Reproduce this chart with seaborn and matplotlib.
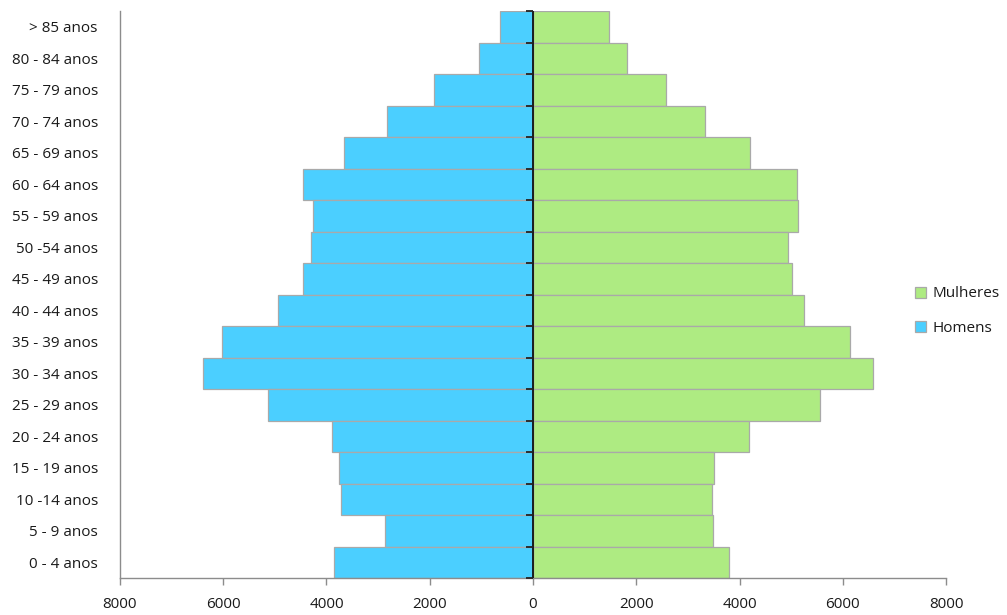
import numpy as np
import pandas as pd
import matplotlib
matplotlib.use("Agg")
import matplotlib.pyplot as plt
from matplotlib import markers
from matplotlib.ticker import FuncFormatter, FixedLocator
import seaborn as sns

# Age groups, oldest at the top
faixas = ["> 85 anos", "80 - 84 anos", "75 - 79 anos", "70 - 74 anos",
          "65 - 69 anos", "60 - 64 anos", "55 - 59 anos", "50 -54 anos",
          "45 - 49 anos", "40 - 44 anos", "35 - 39 anos", "30 - 34 anos",
          "25 - 29 anos", "20 - 24 anos", "15 - 19 anos", "10 -14 anos",
          "5 - 9 anos", "0 - 4 anos"]

homens = [645, 1045, 1923, 2833, 3665, 4464, 4270, 4301, 4464, 4948,
          6027, 6389, 5142, 3892, 3756, 3710, 2872, 3846]

mulheres = [1470, 1813, 2583, 3325, 4204, 5115, 5135, 4948, 5019, 5251,
            6137, 6577, 5556, 4185, 3506, 3461, 3487, 3791]

x_ticks = [-8000, -6000, -4000, -2000, 0, 2000, 4000, 6000, 8000]

cor_mulheres = "#AEEB82"
cor_homens = "#4BCFFF"
cor_borda = "#A9A9A9"
cor_texto = "#1A1A1A"

df = pd.concat([
    pd.DataFrame({"faixa": faixas, "pop": mulheres, "sexo": "Mulheres"}),
    pd.DataFrame({"faixa": faixas, "pop": [-v for v in homens], "sexo": "Homens"}),
], ignore_index=True)

sns.set_style("white")
plt.rcParams["font.family"] = ["Open Sans", "DejaVu Sans"]
plt.rcParams["font.size"] = 11

fig = plt.figure(figsize=(10.07, 6.15), dpi=100)
ax = fig.add_axes([120 / 1007, 37 / 615, 826 / 1007, 567 / 615])

sns.barplot(data=df, x="pop", y="faixa", hue="sexo", order=faixas,
            hue_order=["Mulheres", "Homens"],
            palette={"Mulheres": cor_mulheres, "Homens": cor_homens},
            saturation=1, dodge=False, width=1.0, orient="h",
            edgecolor=cor_borda, linewidth=0.9, ax=ax)

ax.set_xlim(-8000, 8000)
ax.set_ylim(len(faixas) - 0.5, -0.5)
ax.xaxis.set_major_locator(FixedLocator(x_ticks))
ax.xaxis.set_major_formatter(FuncFormatter(lambda v, p: f"{abs(int(v))}"))
ax.set_xlabel("")
ax.set_ylabel("")

for side in ["top", "right"]:
    ax.spines[side].set_visible(False)
for side in ["left", "bottom"]:
    ax.spines[side].set_color("#8C8C8C")
    ax.spines[side].set_linewidth(1.0)

ax.tick_params(axis="x", bottom=True, direction="out", length=5, width=1.0,
               color="#8C8C8C", pad=9, labelsize=11, labelcolor=cor_texto)
ax.tick_params(axis="y", length=0, pad=16, labelsize=11, labelcolor=cor_texto)
for lbl in ax.get_yticklabels():
    lbl.set_va("center_baseline")

# Category axis crossing at zero, with tick marks on the group boundaries
ax.axvline(0, color="#111111", linewidth=1.3, zorder=4)
limites = np.arange(-0.5, len(faixas), 1.0)
ax.plot(np.zeros_like(limites), limites, linestyle="none",
        marker=markers.TICKLEFT, markersize=5, markeredgewidth=1.3,
        color="#222222", zorder=5, clip_on=False)

ax.legend_.remove()
handles = [
    plt.Rectangle((0, 0), 1, 1, facecolor=cor_mulheres, edgecolor=cor_borda, linewidth=0.9),
    plt.Rectangle((0, 0), 1, 1, facecolor=cor_homens, edgecolor=cor_borda, linewidth=0.9),
]
fig.legend(handles, ["Mulheres", "Homens"], loc="center left",
           bbox_to_anchor=(915 / 1007, 1 - 311 / 615), frameon=False,
           handlelength=0.75, handleheight=0.75, handletextpad=0.4,
           labelspacing=1.25, borderpad=0, borderaxespad=0,
           fontsize=11, labelcolor=cor_texto)

fig.savefig("out.png", dpi=100)
